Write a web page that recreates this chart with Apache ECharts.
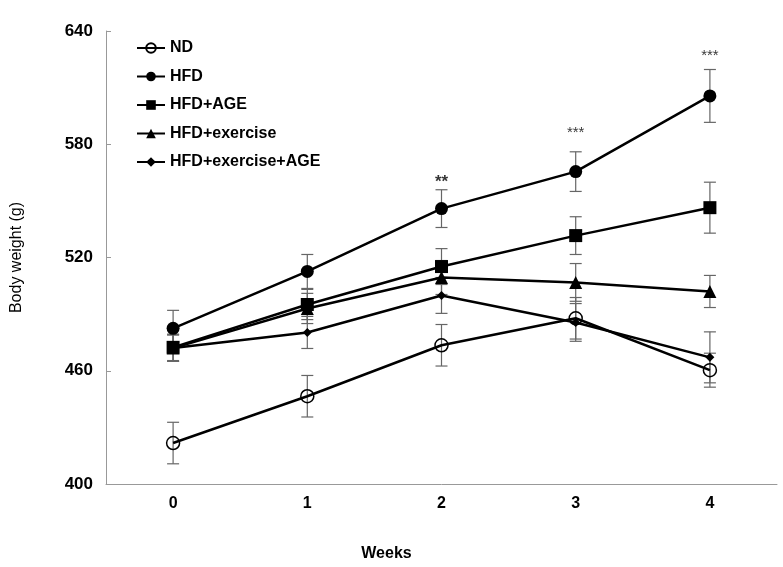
<!DOCTYPE html>
<html>
<head>
<meta charset="utf-8">
<script src="https://cdn.jsdelivr.net/npm/echarts@6/dist/echarts.min.js"></script>
<style>html,body{margin:0;padding:0;background:#fff}#c{width:783px;height:567px}</style>
</head>
<body>
<div id="c"></div>
<script>
var weeks = ['0', '1', '2', '3', '4'];
var seriesNames = ['ND', 'HFD', 'HFD+AGE', 'HFD+exercise', 'HFD+exercise+AGE'];
var ndMean = [421.7, 446.5, 473.5, 487.8, 460.3];
var ndErr = [11, 11, 11, 11, 9];
var hfdMean = [482.5, 512.6, 545.9, 565.5, 605.6];
var hfdErr = [9.5, 9, 10, 10.5, 14];
var ageMean = [472.4, 495.1, 515.2, 531.6, 546.4];
var ageErr = [7, 8, 9.5, 10, 13.5];
var exMean = [472.0, 493.0, 509.4, 506.8, 502.0];
var exErr = [7, 8, 9, 10, 8.5];
var exAgeMean = [472.0, 480.3, 499.9, 485.6, 467.1];
var exAgeErr = [7, 8.5, 9.5, 10, 13.5];
var starWeeks = ['2', '3', '4'];
var starY = [560, 586, 627];
var starText = ['**', '***', '***'];
var yTicks = [400, 460, 520, 580, 640];

var means = [ndMean, hfdMean, ageMean, exMean, exAgeMean];
var errs = [ndErr, hfdErr, ageErr, exErr, exAgeErr];
var symbols = ['circle', 'circle', 'rect', 'triangle', 'diamond'];
var sizes = [13, 13, 13, 13, 9];
var FONT = 'Liberation Sans, Arial, sans-serif';

var chart = echarts.init(document.getElementById('c'));
var series = [];
// error bars
means.forEach(function (m, si) {
  var data = m.map(function (v, i) { return [i, v - errs[si][i], v + errs[si][i]]; });
  series.push({
    type: 'custom',
    silent: true,
    z: 1,
    data: data,
    renderItem: function (params, api) {
      var x = api.value(0);
      var lo = api.coord([x, api.value(1)]);
      var hi = api.coord([x, api.value(2)]);
      var w = 6;
      var st = { stroke: '#666', lineWidth: 1.2 };
      return {
        type: 'group',
        children: [
          { type: 'line', shape: { x1: lo[0], y1: lo[1], x2: hi[0], y2: hi[1] }, style: st },
          { type: 'line', shape: { x1: lo[0] - w, y1: lo[1], x2: lo[0] + w, y2: lo[1] }, style: st },
          { type: 'line', shape: { x1: hi[0] - w, y1: hi[1], x2: hi[0] + w, y2: hi[1] }, style: st }
        ]
      };
    }
  });
});
means.forEach(function (m, si) {
  var isND = si === 0;
  series.push({
    name: seriesNames[si],
    type: 'line',
    z: 3,
    data: m,
    symbol: symbols[si],
    symbolSize: sizes[si],
    lineStyle: { color: '#000', width: 2.5 },
    itemStyle: isND ? { color: 'rgba(255,255,255,0)', borderColor: '#000', borderWidth: 1.5 } : { color: '#000' },
    emphasis: { disabled: true },
    animation: false
  });
});
series.push({
  type: 'scatter',
  symbolSize: 0,
  silent: true,
  data: starWeeks.map(function (w, i) {
    return {
      value: [w, starY[i]],
      label: { show: true, position: 'inside', formatter: starText[i], fontSize: i === 0 ? 17 : 15, fontWeight: i === 0 ? 'bold' : 'normal', color: '#000', fontFamily: FONT }
    };
  })
});

chart.setOption({
  animation: false,
  backgroundColor: '#fff',
  grid: { left: 106, right: 6, top: 31, bottom: 82 },
  legend: {
    orient: 'vertical',
    left: 131,
    top: 35,
    itemGap: 12.5,
    itemWidth: 28,
    itemHeight: 12,
    data: seriesNames,
    textStyle: { fontSize: 16, fontWeight: 'bold', color: '#000', fontFamily: FONT }
  },
  xAxis: {
    type: 'category',
    data: weeks,
    boundaryGap: true,
    name: 'Weeks',
    nameLocation: 'middle',
    nameGap: 62,
    nameTextStyle: { fontSize: 16, fontWeight: 'bold', color: '#000', fontFamily: FONT, padding: [0, 110, 0, 0] },
    axisLine: { lineStyle: { color: '#999', width: 1 } },
    axisTick: { alignWithLabel: true, inside: true, length: 5, lineStyle: { color: '#999' } },
    axisLabel: { fontSize: 16, fontWeight: 'bold', color: '#000', margin: 12, fontFamily: FONT },
    splitLine: { show: false }
  },
  yAxis: {
    type: 'value',
    min: yTicks[0],
    max: yTicks[yTicks.length - 1],
    interval: 60,
    name: 'Body weight (g)',
    nameLocation: 'middle',
    nameGap: 81,
    nameRotate: 90,
    nameTextStyle: { fontSize: 16, fontWeight: 'normal', color: '#000', fontFamily: FONT },
    axisLine: { show: true, lineStyle: { color: '#999', width: 1 } },
    axisTick: { show: true, inside: true, length: 5, lineStyle: { color: '#999' } },
    axisLabel: { fontSize: 17, fontWeight: 'bold', color: '#000', margin: 13, fontFamily: FONT },
    splitLine: { show: false }
  },
  series: series
});
</script>
</body>
</html>
